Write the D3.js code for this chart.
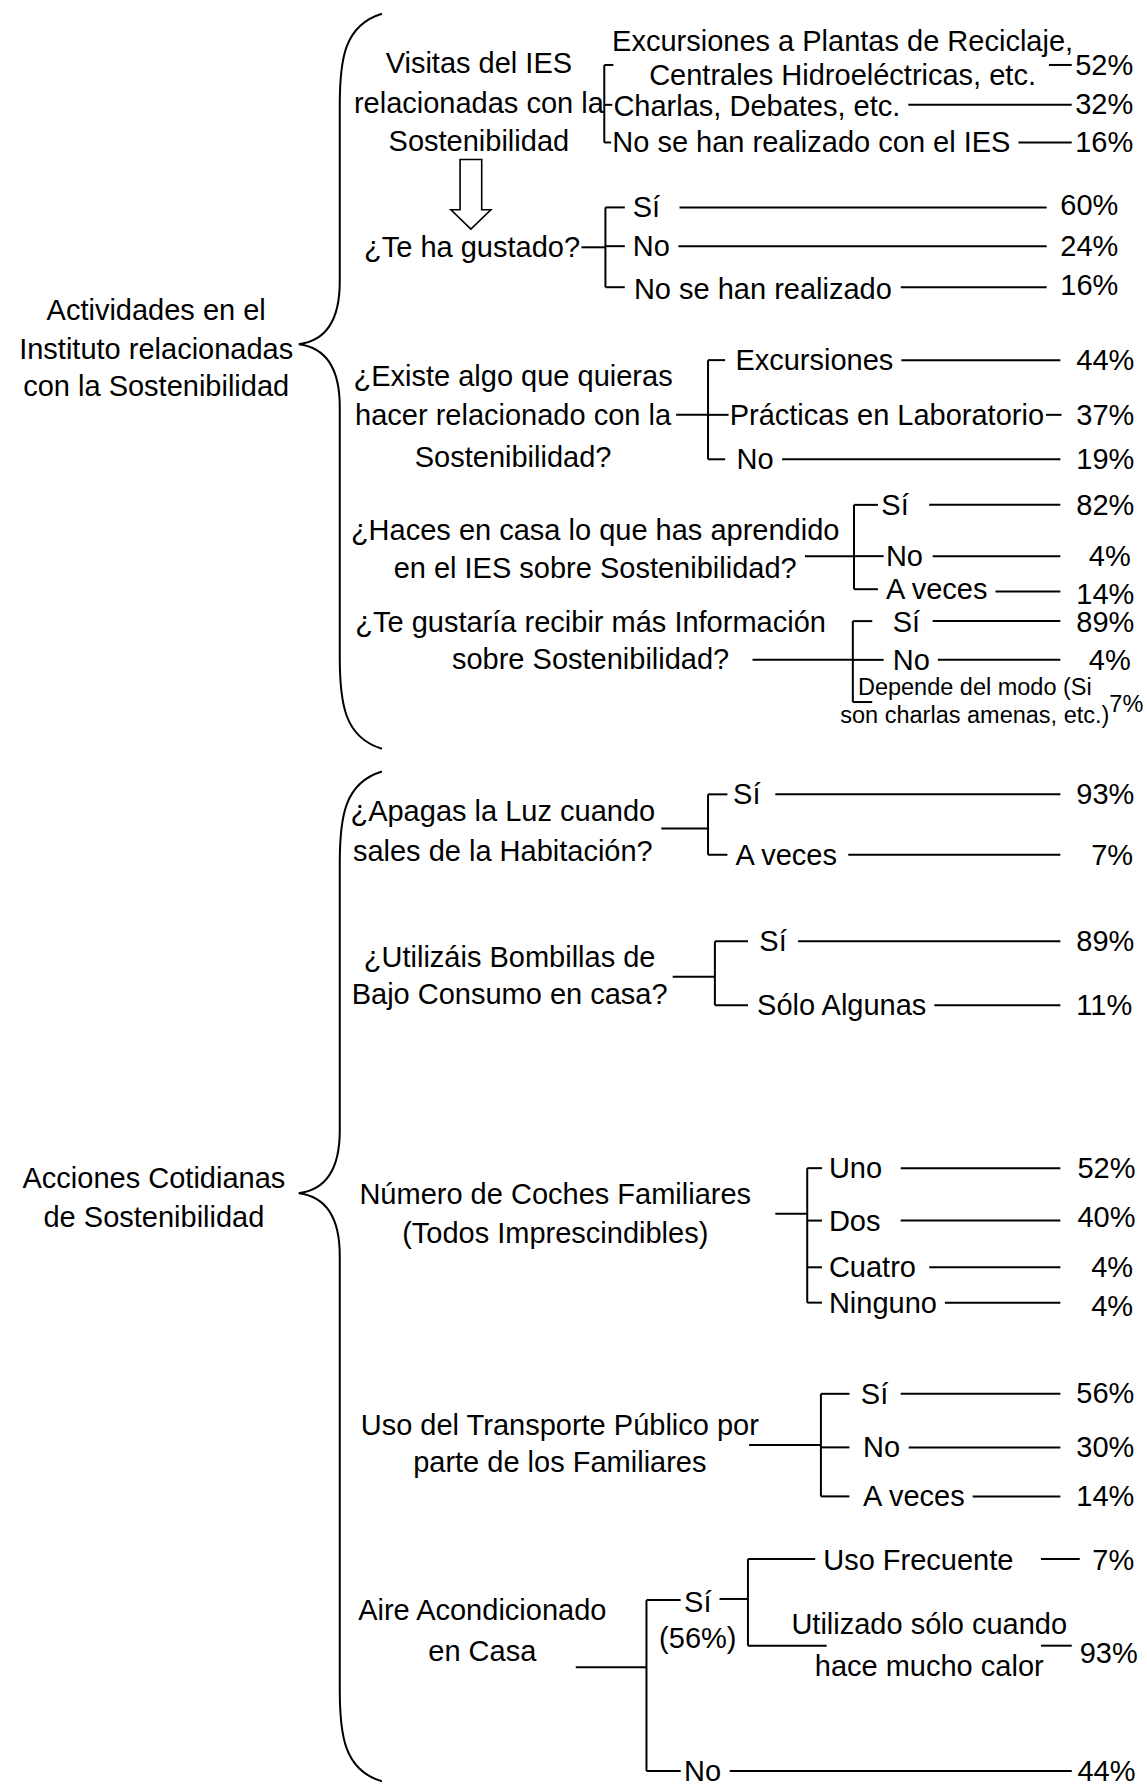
<!DOCTYPE html>
<html><head><meta charset="utf-8">
<script src="https://cdn.jsdelivr.net/npm/d3@7"></script>
<style>html,body{margin:0;padding:0;background:#fff}svg{display:block}</style>
</head><body><svg id="c"></svg>
<script>
// ---------- DATA ----------
const rootLabels = [
  ["Actividades en el", "Instituto relacionadas", "con la Sostenibilidad"],
  ["Acciones Cotidianas", "de Sostenibilidad"]
];
const questionLabels = [
  ["Visitas del IES", "relacionadas con la", "Sostenibilidad"],
  ["¿Te ha gustado?"],
  ["¿Existe algo que quieras", "hacer relacionado con la", "Sostenibilidad?"],
  ["¿Haces en casa lo que has aprendido", "en el IES sobre Sostenibilidad?"],
  ["¿Te gustaría recibir más Información", "sobre Sostenibilidad?"],
  ["¿Apagas la Luz cuando", "sales de la Habitación?"],
  ["¿Utilizáis Bombillas de", "Bajo Consumo en casa?"],
  ["Número de Coches Familiares", "(Todos Imprescindibles)"],
  ["Uso del Transporte Público por", "parte de los Familiares"],
  ["Aire Acondicionado", "en Casa"]
];
const optionLabels = [
  [["Excursiones a Plantas de Reciclaje,", "Centrales Hidroeléctricas, etc."], ["Charlas, Debates, etc."], ["No se han realizado con el IES"]],
  [["Sí"], ["No"], ["No se han realizado"]],
  [["Excursiones"], ["Prácticas en Laboratorio"], ["No"]],
  [["Sí"], ["No"], ["A veces"]],
  [["Sí"], ["No"], ["Depende del modo (Si", "son charlas amenas, etc.)"]],
  [["Sí"], ["A veces"]],
  [["Sí"], ["Sólo Algunas"]],
  [["Uno"], ["Dos"], ["Cuatro"], ["Ninguno"]],
  [["Sí"], ["No"], ["A veces"]],
  [["Sí"], ["No"]]
];
const optionValues = [
  [52, 32, 16], [60, 24, 16], [44, 37, 19], [82, 4, 14], [89, 4, 7],
  [93, 7], [89, 11], [52, 40, 4, 4], [56, 30, 14], [56, 44]
];
const subOptionLabels = [["Uso Frecuente"], ["Utilizado sólo cuando", "hace mucho calor"]];
const subOptionValues = [7, 93];

// ---------- LAYOUT (reference units, mapped through scales) ----------
const W = 1147, H = 1787;
const sx = d3.scaleLinear().domain([0, 1006]).range([0, W]);
const sy = d3.scaleLinear().domain([0, 1568]).range([0, H]);
const FS = 29, FS_SMALL = 23.5;

const rootLayout = [{cx: 137, ys: [272, 306, 339]}, {cx: 135, ys: [1034, 1068]}];
const braceLayout = [
  {tipX: 262, tipY: 302, x: 298, top: 12, bottom: 657, endX: 335, r: 80, m: 55},
  {tipX: 262, tipY: 1047, x: 298, top: 677, bottom: 1563, endX: 335, r: 80, m: 55}
];
const arrowLayout = {x: 413, top: 140, shaft: 19, head: 35, headY: 184, tip: 201};

const qLayout = [
  {cx: 420, ys: [55, 90, 124], bx: 530, conn: null},
  {cx: 414, ys: [217], bx: 531, conn: [510, 217]},
  {cx: 450, ys: [330, 364, 401], bx: 621, conn: [593, 364]},
  {cx: 522, ys: [465, 498], bx: 749, conn: [706, 488]},
  {cx: 518, ys: [546, 578], bx: 748, conn: [660, 579]},
  {cx: 441, ys: [712, 747], bx: 621, conn: [580, 727]},
  {cx: 447, ys: [840, 872], bx: 627, conn: [590, 857]},
  {cx: 487, ys: [1048, 1082], bx: 708, conn: [680, 1065]},
  {cx: 491, ys: [1250, 1283], bx: 720, conn: [657, 1268]},
  {cx: 423, ys: [1413, 1449], bx: 567, conn: [505, 1463]}
];
// tick:[y, xEnd]  label:{x, ys, anchor, small}  line:[x0(min),x1,y,gap]  pct:[x,y,anchor,small,paren]
const oLayout = [
  [
    {tick: [57, 538], label: {x: 739, ys: [36, 66], anchor: "middle"}, line: [920, 940, 57], pct: [943, 57]},
    {tick: [92, 537], label: {x: 538, ys: [93]}, line: [780, 940, 92], pct: [943, 91]},
    {tick: [125, 536], label: {x: 537, ys: [125]}, line: [880, 940, 125], pct: [943, 125]}
  ],
  [
    {tick: [182, 548], label: {x: 555, ys: [182]}, line: [596, 918, 182], pct: [930, 180]},
    {tick: [216, 548], label: {x: 555, ys: [216]}, line: [595, 918, 216], pct: [930, 216]},
    {tick: [252, 548], label: {x: 556, ys: [254]}, line: [790, 918, 252], pct: [930, 250]}
  ],
  [
    {tick: [316, 636], label: {x: 645, ys: [316]}, line: [790, 930, 316], pct: [944, 316]},
    {tick: [364, 639], label: {x: 640, ys: [364]}, line: [916, 931, 364, 2], pct: [944, 364]},
    {tick: [403, 636], label: {x: 646, ys: [403]}, line: [686, 930, 403], pct: [944, 403]}
  ],
  [
    {tick: [443, 770], label: {x: 773, ys: [443]}, line: [815, 930, 443], pct: [944, 443]},
    {tick: [488, 775], label: {x: 777, ys: [488]}, line: [818, 930, 488], pct: [955, 488]},
    {tick: [517, 770], label: {x: 777, ys: [517]}, line: [873, 930, 519], pct: [944, 521]}
  ],
  [
    {tick: [545, 765], label: {x: 783, ys: [546]}, line: [818, 930, 545], pct: [944, 546]},
    {tick: [579, 775], label: {x: 783, ys: [579]}, line: [822, 930, 579], pct: [955, 579]},
    {tick: [616, 765], label: {x: 855, ys: [603, 627], anchor: "middle", small: true}, line: null, pct: [973, 618, "start", true]}
  ],
  [
    {tick: [697, 638], label: {x: 643, ys: [697]}, line: [680, 930, 697], pct: [944, 697]},
    {tick: [750, 638], label: {x: 645, ys: [750]}, line: [744, 930, 750], pct: [957, 750]}
  ],
  [
    {tick: [826, 656], label: {x: 666, ys: [826]}, line: [700, 930, 826], pct: [944, 826]},
    {tick: [882, 656], label: {x: 664, ys: [882]}, line: [818, 930, 882], pct: [944, 882]}
  ],
  [
    {tick: [1025, 721], label: {x: 727, ys: [1025]}, line: [790, 930, 1025], pct: [945, 1025]},
    {tick: [1071, 721], label: {x: 727, ys: [1071]}, line: [790, 930, 1071], pct: [945, 1068]},
    {tick: [1112, 721], label: {x: 727, ys: [1112]}, line: [815, 930, 1112], pct: [957, 1112]},
    {tick: [1143, 721], label: {x: 727, ys: [1143]}, line: [826, 930, 1143], pct: [957, 1146]}
  ],
  [
    {tick: [1223, 745], label: {x: 755, ys: [1223]}, line: [790, 930, 1223], pct: [944, 1222]},
    {tick: [1270, 745], label: {x: 757, ys: [1270]}, line: [797, 930, 1270], pct: [944, 1270]},
    {tick: [1313, 745], label: {x: 757, ys: [1313]}, line: [850, 930, 1313], pct: [944, 1313]}
  ],
  [
    {tick: [1404, 597], label: {x: 600, ys: [1406]}, line: [625, 656, 1403], pct: [612, 1437, "middle", false, true]},
    {tick: [1554, 597], label: {x: 600, ys: [1554]}, line: [640, 940, 1554], pct: [945, 1554]}
  ]
];
const subLayout = {bx: 656, items: [
  {tick: [1368, 715], label: {x: 722, ys: [1369]}, line: [913, 947, 1368], pct: [958, 1369]},
  {tick: [1444, 725], label: {x: 815, ys: [1425, 1462], anchor: "middle"}, line: [913, 940, 1444], pct: [947, 1450]}
]};

// ---------- DRAW ----------
const svg = d3.select("#c").attr("width", W).attr("height", H)
  .style("font-family", "'Liberation Sans', Arial, Helvetica, sans-serif");
svg.append("rect").attr("width", W).attr("height", H).attr("fill", "#fff");
const gLines = svg.append("g").attr("stroke", "#000").attr("stroke-width", 2).attr("fill", "none");
const gText = svg.append("g").attr("fill", "#000");

function textLines(lines, x, ys, anchor, size) {
  return lines.map((t, i) => gText.append("text")
      .attr("x", sx(x)).attr("y", sy(ys[i]))
      .attr("text-anchor", anchor || "start")
      .attr("dominant-baseline", "central")
      .attr("font-size", size || FS)
      .text(t));
}
function hline(x0, x1, y) {
  gLines.append("line").attr("x1", x0).attr("x2", x1).attr("y1", sy(y)).attr("y2", sy(y));
}
function vline(x, y0, y1) {
  gLines.append("line").attr("x1", sx(x)).attr("x2", sx(x)).attr("y1", sy(y0)).attr("y2", sy(y1));
}

// roots + braces
rootLabels.forEach((lines, i) => textLines(lines, rootLayout[i].cx, rootLayout[i].ys, "middle"));
braceLayout.forEach(b => {
  const p = d3.path();
  p.moveTo(sx(b.endX), sy(b.top));
  p.bezierCurveTo(sx(b.x + 4), sy(b.top + 10), sx(b.x), sy(b.top + b.r * 0.5), sx(b.x), sy(b.top + b.r));
  p.lineTo(sx(b.x), sy(b.tipY - b.m));
  p.bezierCurveTo(sx(b.x), sy(b.tipY - 12), sx(b.tipX + 16), sy(b.tipY - 2), sx(b.tipX), sy(b.tipY));
  p.bezierCurveTo(sx(b.tipX + 16), sy(b.tipY + 2), sx(b.x), sy(b.tipY + 12), sx(b.x), sy(b.tipY + b.m));
  p.lineTo(sx(b.x), sy(b.bottom - b.r));
  p.bezierCurveTo(sx(b.x), sy(b.bottom - b.r * 0.5), sx(b.x + 4), sy(b.bottom - 10), sx(b.endX), sy(b.bottom));
  gLines.append("path").attr("d", p.toString());
});

// hollow arrow
{
  const a = arrowLayout, hs = a.shaft / 2, hh = a.head / 2;
  const pts = [[a.x - hs, a.top], [a.x + hs, a.top], [a.x + hs, a.headY], [a.x + hh, a.headY],
               [a.x, a.tip], [a.x - hh, a.headY], [a.x - hs, a.headY]];
  gLines.append("polygon").attr("points", pts.map(p => [sx(p[0]), sy(p[1])].join(",")).join(" "))
    .attr("stroke-width", 1.6);
}

function drawOption(o, labels, value, bx) {
  hline(sx(bx), sx(o.tick[1]), o.tick[0]);
  const nodes = textLines(labels, o.label.x, o.label.ys, o.label.anchor, o.label.small ? FS_SMALL : FS);
  if (o.line) {
    let x0 = sx(o.line[0]);
    if (!o.label.anchor && labels.length === 1) {
      const bb = nodes[0].node().getBBox();
      const gap = o.line[3] != null ? o.line[3] : 8;
      x0 = Math.max(x0, bb.x + bb.width + gap);
    }
    hline(x0, sx(o.line[1]), o.line[2]);
  }
  const [px, py, anchor, small, paren] = o.pct;
  textLines([paren ? `(${value}%)` : `${value}%`], px, [py], anchor || "start", small ? FS_SMALL : FS);
}

questionLabels.forEach((lines, qi) => {
  const q = qLayout[qi], opts = oLayout[qi];
  textLines(lines, q.cx, q.ys, "middle");
  const ty = opts.map(o => o.tick[0]);
  vline(q.bx, d3.min(ty), d3.max(ty));
  if (q.conn) hline(sx(q.conn[0]), sx(q.bx), q.conn[1]);
  opts.forEach((o, oi) => drawOption(o, optionLabels[qi][oi], optionValues[qi][oi], q.bx));
});

// nested sub-branch (Aire Acondicionado -> Sí)
{
  const ty = subLayout.items.map(o => o.tick[0]);
  vline(subLayout.bx, d3.min(ty), d3.max(ty));
  subLayout.items.forEach((o, i) => drawOption(o, subOptionLabels[i], subOptionValues[i], subLayout.bx));
}
</script>
</body></html>
